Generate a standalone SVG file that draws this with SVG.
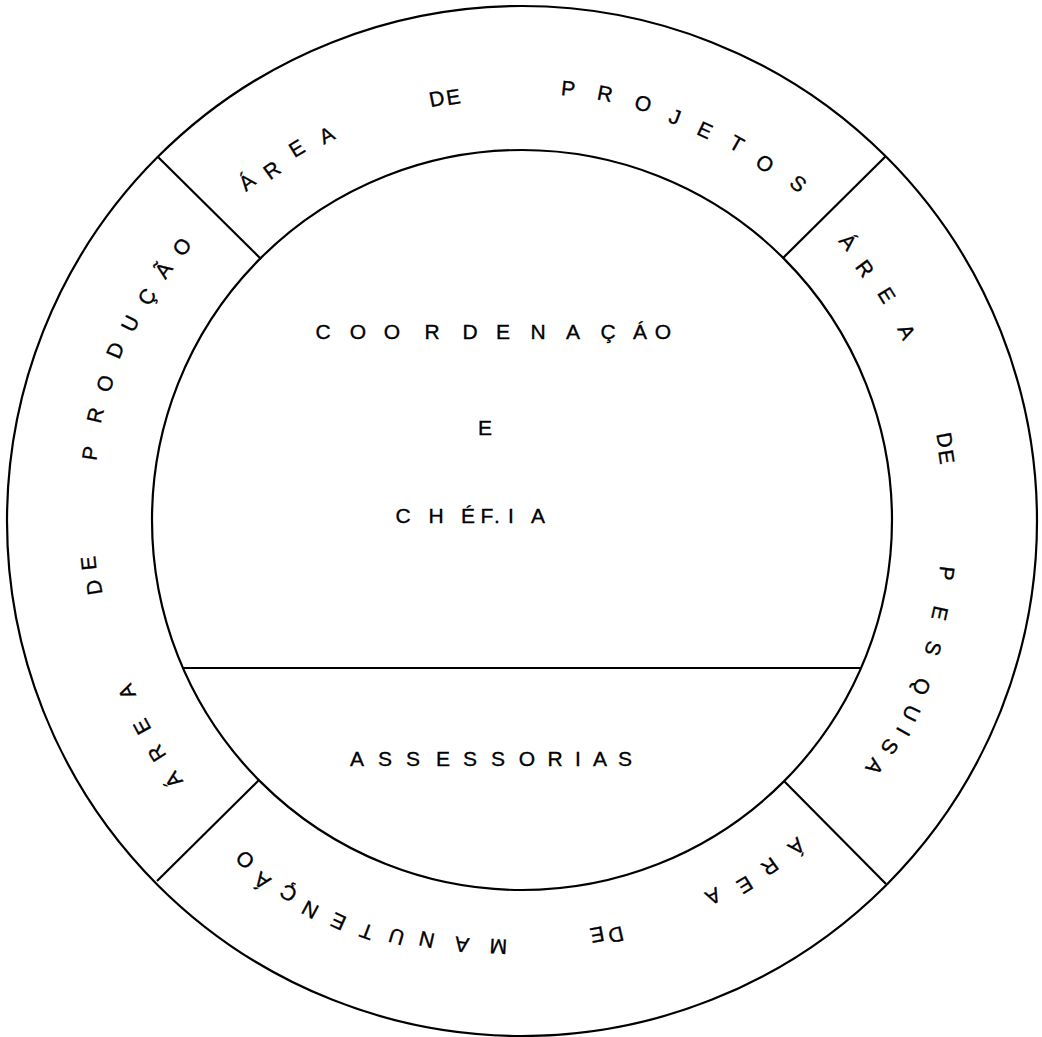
<svg xmlns="http://www.w3.org/2000/svg" width="1042" height="1037" viewBox="0 0 1042 1037">
<style>
  .ln { fill: none; stroke: #000; stroke-width: 2.2; }
  text { font-family: "Liberation Sans", Arial, sans-serif; font-size: 21px; fill: #000; stroke: #000; stroke-width: 0.35; text-anchor: middle; }
</style>
<rect width="1042" height="1037" fill="#fff"/>
<g id="frame">
  <circle class="ln" cx="522" cy="521" r="515"/>
  <circle class="ln" cx="522" cy="520" r="370"/>
</g>
<g id="connectors">
  <line class="ln" x1="158" y1="157" x2="261" y2="259"/>
  <line class="ln" x1="886" y1="156" x2="783" y2="258"/>
  <line class="ln" x1="886" y1="884" x2="784" y2="781"/>
  <line class="ln" x1="157" y1="881" x2="259" y2="780"/>
  <line class="ln" x1="182" y1="668" x2="861" y2="668"/>
</g>
<g id="coordenacao">
  <text x="323 358 392 432 470 503 538 573 608 640 663" y="339">COORDENAÇÁO</text>
  <text x="485" y="435">E</text>
  <text x="403 436 468 487 497 511 538" y="523">CHÉF.IA</text>
</g>
<g id="assessorias">
  <text x="357 385 413 443 470 498 527 555 578 600 625" y="766">ASSESSORIAS</text>
</g>
<g id="area-projetos">
  <text transform="translate(246.7,181.7) rotate(-39.1)" y="7.5">Á</text>
  <text transform="translate(271.7,170) rotate(-35.6)" y="7.5">R</text>
  <text transform="translate(296.7,148.3) rotate(-31.2)" y="7.5">E</text>
  <text transform="translate(326.7,135) rotate(-26.9)" y="7.5">A</text>
  <text transform="translate(436.7,98.3) rotate(-11.4)" y="7.5">D</text>
  <text transform="translate(453.3,96.7) rotate(-9.2)" y="7.5">E</text>
  <text transform="translate(568.3,88.3) rotate(6.1)" y="7.5">P</text>
  <text transform="translate(605,93.3) rotate(11)" y="7.5">R</text>
  <text transform="translate(643.3,103.3) rotate(16.2)" y="7.5">O</text>
  <text transform="translate(675,116.7) rotate(20.8)" y="7.5">J</text>
  <text transform="translate(705,130) rotate(25.1)" y="7.5">E</text>
  <text transform="translate(736.7,143.3) rotate(29.7)" y="7.5">T</text>
  <text transform="translate(765,163.3) rotate(34.3)" y="7.5">O</text>
  <text transform="translate(798.3,183.3) rotate(39.4)" y="7.5">S</text>
</g>
<g id="area-pesquisa">
  <text transform="translate(848.3,241.7) rotate(49.5)" y="7.5">Á</text>
  <text transform="translate(865,268.3) rotate(53.7)" y="7.5">R</text>
  <text transform="translate(886.7,295) rotate(58.3)" y="7.5">E</text>
  <text transform="translate(906.7,331.7) rotate(63.9)" y="7.5">A</text>
  <text transform="translate(945,440) rotate(79.3)" y="7.5">D</text>
  <text transform="translate(946.7,456.7) rotate(81.5)" y="7.5">E</text>
  <text transform="translate(946.7,573.3) rotate(97.2)" y="7.5">P</text>
  <text transform="translate(940,613.3) rotate(102.6)" y="7.5">E</text>
  <text transform="translate(933.3,648.3) rotate(107.3)" y="7.5">S</text>
  <text transform="translate(921.7,686.7) rotate(112.6)" y="7.5">Q</text>
  <text transform="translate(911.7,713.3) rotate(116.4)" y="7.5">U</text>
  <text transform="translate(903.3,731.7) rotate(119)" y="7.5">I</text>
  <text transform="translate(890,746.7) rotate(121.6)" y="7.5">S</text>
  <text transform="translate(875,766.7) rotate(125)" y="7.5">A</text>
</g>
<g id="area-manutencao">
  <text transform="translate(796.7,846.7) rotate(139.9)" y="7.5">Á</text>
  <text transform="translate(770,866.7) rotate(144.4)" y="7.5">R</text>
  <text transform="translate(745,885) rotate(148.6)" y="7.5">E</text>
  <text transform="translate(713.3,896.7) rotate(153.1)" y="7.5">A</text>
  <text transform="translate(616,935) rotate(167.2)" y="7.5">D</text>
  <text transform="translate(597.3,935) rotate(169.7)" y="7.5">E</text>
  <text transform="translate(498.3,946.7) rotate(183.2)" y="7.5">M</text>
  <text transform="translate(461.7,945) rotate(188.1)" y="7.5">A</text>
  <text transform="translate(426.7,940) rotate(192.8)" y="7.5">N</text>
  <text transform="translate(396.7,936.7) rotate(196.7)" y="7.5">U</text>
  <text transform="translate(366.7,931.7) rotate(200.7)" y="7.5">T</text>
  <text transform="translate(338.3,921.7) rotate(204.6)" y="7.5">E</text>
  <text transform="translate(310,910) rotate(208.5)" y="7.5">N</text>
  <text transform="translate(288.3,893.3) rotate(212.1)" y="7.5">Ç</text>
  <text transform="translate(262,881) rotate(215.8)" y="7.5">Á</text>
  <text transform="translate(245,860) rotate(219.2)" y="7.5">O</text>
</g>
<g id="area-producao">
  <text transform="translate(173.3,780) rotate(233.3)" y="7.5">Á</text>
  <text transform="translate(156.7,753.3) rotate(237.4)" y="7.5">R</text>
  <text transform="translate(141.7,726.7) rotate(241.5)" y="7.5">E</text>
  <text transform="translate(126.7,691.7) rotate(246.5)" y="7.5">A</text>
  <text transform="translate(94,587.5) rotate(261)" y="7.5">D</text>
  <text transform="translate(88.3,563.3) rotate(264.3)" y="7.5">E</text>
  <text transform="translate(90,453.3) rotate(278.8)" y="7.5">P</text>
  <text transform="translate(95,415) rotate(283.8)" y="7.5">R</text>
  <text transform="translate(105,383.3) rotate(288.1)" y="7.5">O</text>
  <text transform="translate(115,350) rotate(292.7)" y="7.5">D</text>
  <text transform="translate(130,323.3) rotate(296.6)" y="7.5">U</text>
  <text transform="translate(146.7,296.7) rotate(300.7)" y="7.5">Ç</text>
  <text transform="translate(163.3,270) rotate(304.9)" y="7.5">Ã</text>
  <text transform="translate(181.7,246.7) rotate(308.8)" y="7.5">O</text>
</g>
</svg>
